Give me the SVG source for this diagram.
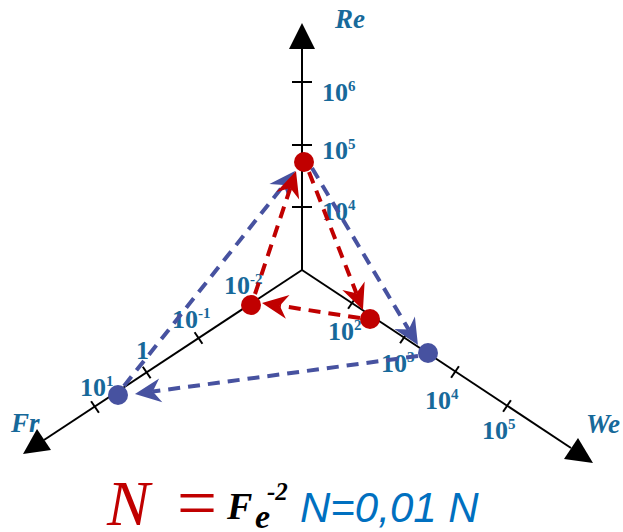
<svg xmlns="http://www.w3.org/2000/svg" width="623" height="532" viewBox="0 0 623 532">
<defs>
<style>
.axis{stroke:#000;stroke-width:2;fill:none}
.tick{stroke:#000;stroke-width:2}
.lbl{font-family:"Liberation Serif",serif;font-weight:bold;font-size:26px;fill:#17699A}
.sup{font-size:15px}
.ax{font-family:"Liberation Serif",serif;font-weight:bold;font-style:italic;font-size:27px;fill:#17699A}
.dr{stroke:#C00000;stroke-width:4;stroke-dasharray:12 8;fill:none}
.db{stroke:#4752A0;stroke-width:4;stroke-dasharray:12 8;fill:none}
</style>
<marker id="mr" markerUnits="userSpaceOnUse" viewBox="-10 -14 30 28" markerWidth="30" markerHeight="28" refX="0" refY="0" orient="auto">
<path d="M18,0 L-8,-12 L0,0 L-8,12 Z" fill="#C00000"/>
</marker>
<marker id="mb" markerUnits="userSpaceOnUse" viewBox="-10 -14 30 28" markerWidth="30" markerHeight="28" refX="0" refY="0" orient="auto">
<path d="M18,0 L-8,-12 L0,0 L-8,12 Z" fill="#4752A0"/>
</marker>
</defs>

<g id="axes">
<line class="axis" x1="302" y1="270" x2="302" y2="46"/>
<polygon points="302,23 289,49 315,49" fill="#000"/>
<line class="axis" x1="302" y1="270" x2="44" y2="440"/>
<polygon points="23,454 37,429 51,450" fill="#000"/>
<line class="axis" x1="302" y1="270" x2="571" y2="448"/>
<polygon points="593,463 564,459 578,438" fill="#000"/>
<g id="ticks">
<line class="tick" x1="292" y1="82" x2="312" y2="82"/>
<line class="tick" x1="292" y1="145" x2="312" y2="145"/>
<line class="tick" x1="292" y1="207" x2="312" y2="207"/>
<line class="tick" x1="194.6" y1="332.2" x2="202.4" y2="343.8"/>
<line class="tick" x1="142.8" y1="366.7" x2="150.6" y2="378.3"/>
<line class="tick" x1="91.1" y1="401.2" x2="98.9" y2="412.8"/>
<line class="tick" x1="348.1" y1="308.8" x2="355.9" y2="297.2"/>
<line class="tick" x1="400.1" y1="343.3" x2="407.9" y2="331.7"/>
<line class="tick" x1="451.1" y1="377.8" x2="458.9" y2="366.2"/>
<line class="tick" x1="503.1" y1="411.8" x2="510.9" y2="400.2"/>
</g>
</g>

<g id="labels">
<text class="ax" x="335" y="28">Re</text>
<text class="ax" x="11" y="432">Fr</text>
<text class="ax" x="586" y="433">We</text>
<text class="lbl" x="322" y="101">10<tspan class="sup" dy="-10">6</tspan></text>
<text class="lbl" x="322" y="159">10<tspan class="sup" dy="-10">5</tspan></text>
<text class="lbl" x="322" y="220">10<tspan class="sup" dy="-10">4</tspan></text>
<text class="lbl" x="224" y="294">10<tspan class="sup" dy="-10">-2</tspan></text>
<text class="lbl" x="172" y="328">10<tspan class="sup" dy="-10">-1</tspan></text>
<text class="lbl" x="136" y="359">1</text>
<text class="lbl" x="80" y="396">10<tspan class="sup" dy="-10">1</tspan></text>
<text class="lbl" x="328" y="340">10<tspan class="sup" dy="-10">2</tspan></text>
<text class="lbl" x="381" y="372">10<tspan class="sup" dy="-10">3</tspan></text>
<text class="lbl" x="425" y="409">10<tspan class="sup" dy="-10">4</tspan></text>
<text class="lbl" x="482" y="439">10<tspan class="sup" dy="-10">5</tspan></text>
</g>

<g id="connectors">
<line class="db" x1="124" y1="386" x2="283.8" y2="185.1" marker-end="url(#mb)"/>
<line class="db" x1="312" y1="168" x2="408.7" y2="329.6" marker-end="url(#mb)"/>
<line class="db" x1="418" y1="356" x2="152.8" y2="391.5" marker-end="url(#mb)"/>
<line class="dr" x1="255" y1="294" x2="290.3" y2="188.1" marker-end="url(#mr)"/>
<line class="dr" x1="309" y1="172" x2="356.4" y2="293.2" marker-end="url(#mr)"/>
<line class="dr" x1="360" y1="318" x2="279.8" y2="305.7" marker-end="url(#mr)"/>
</g>

<g id="node-red-top"><circle cx="304" cy="162" r="10" fill="#C00000"/></g>
<g id="node-red-left"><circle cx="251" cy="305" r="10" fill="#C00000"/></g>
<g id="node-red-right"><circle cx="370" cy="319" r="10" fill="#C00000"/></g>
<g id="node-blue-left"><circle cx="118" cy="395" r="10" fill="#4752A0"/></g>
<g id="node-blue-right"><circle cx="428" cy="353" r="10" fill="#4752A0"/></g>

<g id="formula">
<text x="107" y="525" font-family="Liberation Serif,serif" font-style="italic" font-size="64" fill="#C00000">N</text>
<text x="177" y="527" font-family="Liberation Serif,serif" font-size="72" fill="#C00000" textLength="40" lengthAdjust="spacingAndGlyphs">=</text>
<text x="227" y="519" font-family="Liberation Serif,serif" font-weight="bold" font-style="italic" font-size="38" fill="#000">F</text>
<text x="255" y="528" font-family="Liberation Serif,serif" font-weight="bold" font-style="italic" font-size="34" fill="#000">e</text>
<text x="267" y="500" font-family="Liberation Serif,serif" font-weight="bold" font-style="italic" font-size="25" fill="#000">-2</text>
<text x="300" y="522" font-family="Liberation Sans,sans-serif" font-style="italic" font-size="42" fill="#0070C0">N=0,01 N</text>
</g>
</svg>
